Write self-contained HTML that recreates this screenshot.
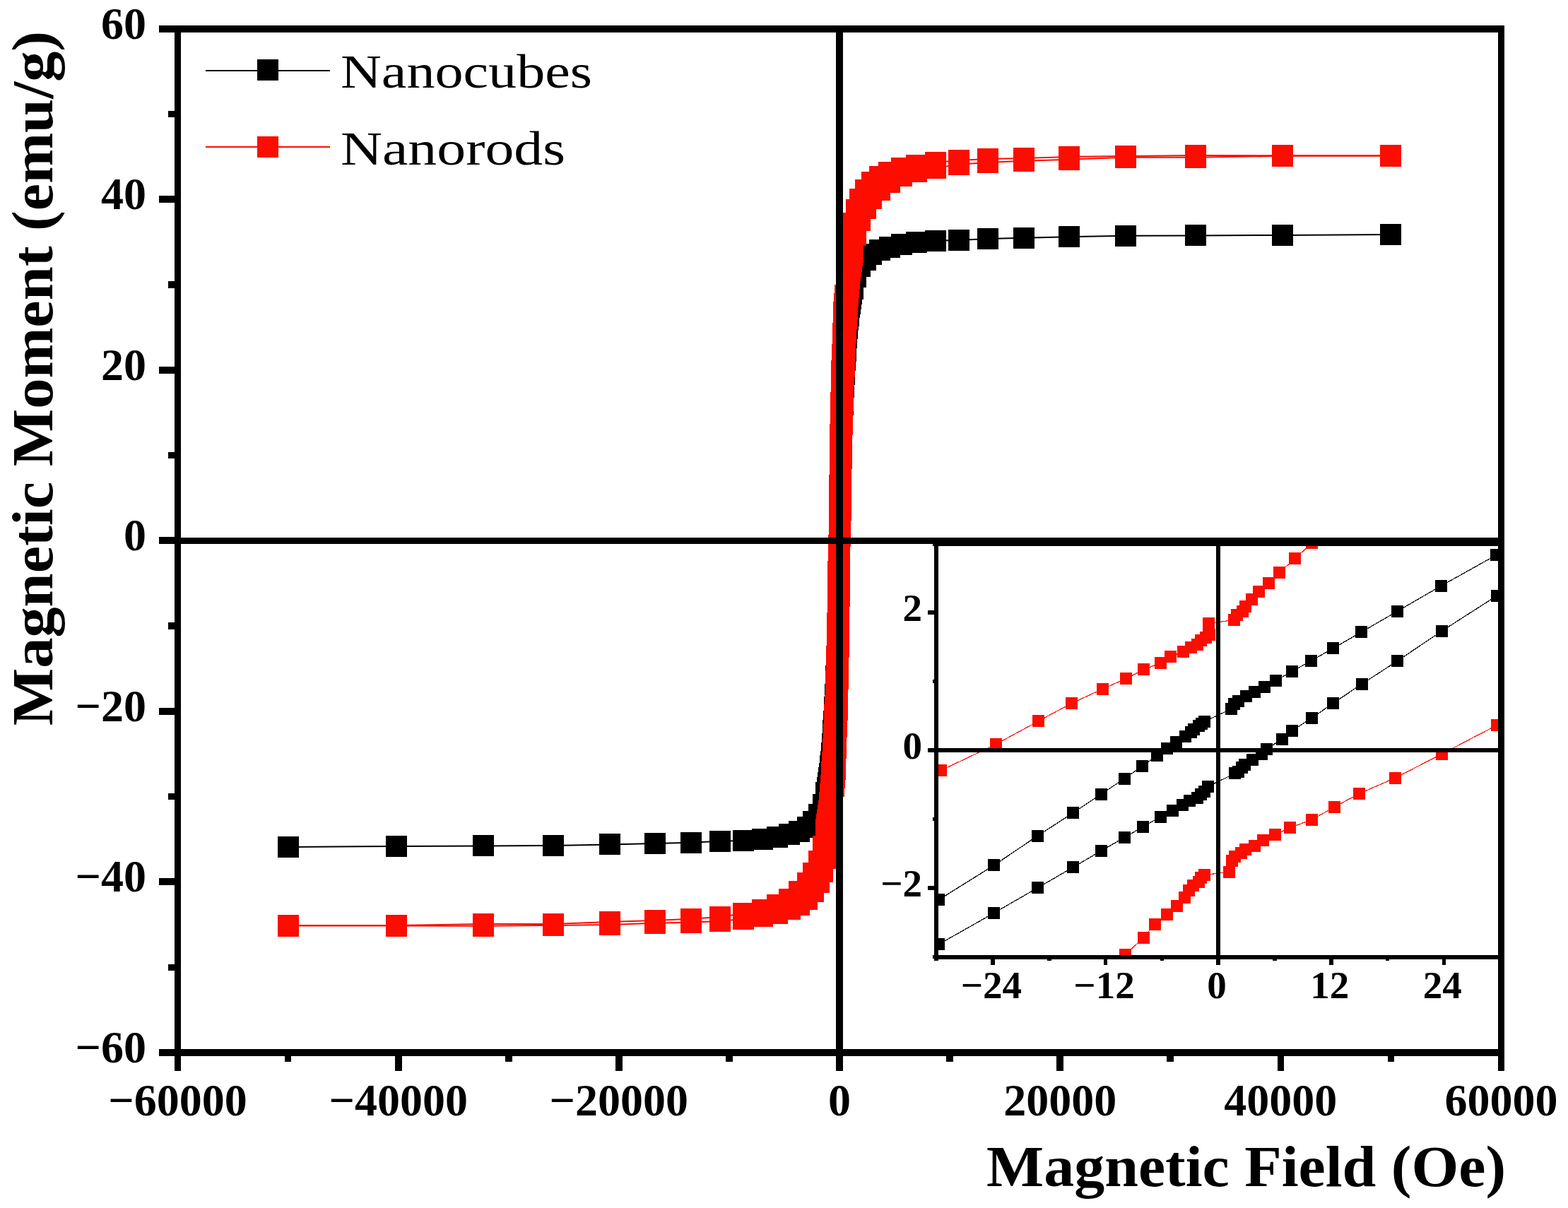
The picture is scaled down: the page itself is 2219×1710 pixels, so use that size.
<!DOCTYPE html>
<html><head><meta charset="utf-8"><title>Magnetic hysteresis</title><style>html,body{margin:0;padding:0;background:#fff;}svg{display:block;}</style></head><body>
<svg width="2219" height="1710" viewBox="0 0 2219 1710">
<rect width="100%" height="100%" fill="#fff"/>
<defs><clipPath id="cm"><rect x="251.5" y="41" width="1873" height="1449"/></clipPath><clipPath id="ci"><rect x="1325" y="769.9" width="798.2" height="584.4"/></clipPath></defs>
<g clip-path="url(#cm)">
<polyline points="408,1198.9 561,1197.9 684,1197.4 783,1197 862.6,1195.5 926.7,1194 978,1192.8 1019,1190.8 1052,1190.1 1079,1187.7 1100,1185.1 1117.5,1180.8 1131,1176.5 1143,1171.1 1151.1,1163.1 1159.2,1153.3 1165.1,1139 1169.3,1122.1 1170.5,1115.1 1171.8,1108.1 1173,1101.1 1173.8,1095.3 1174.5,1089.6 1175.3,1083.8 1176.1,1078.1 1176.6,1071.9 1177.2,1065.6 1177.8,1059.4 1178.3,1053.2 1178.7,1046.6 1179,1040.1 1179.4,1033.5 1179.8,1027 1180.2,1020.5 1180.7,1014.1 1181.1,1007.6 1181.5,1001.2 1181.8,995.1 1182.1,989 1182.4,983 1182.7,976.9 1183,970.8 1183.2,964.1 1183.5,957.5 1183.8,950.8 1184,944.1 1184.2,937.5 1184.5,930.8 1184.7,924.5 1184.8,918.3 1185,912 1185.1,905.8 1185.2,899.5 1185.4,893.3 1185.5,887 1185.7,880.8 1185.8,874.1 1185.9,867.5 1186.1,860.8 1186.2,854.1 1186.3,847.5 1186.4,840.8 1186.6,834.1 1186.7,827.5 1186.8,820.8 1186.9,813.9 1187,806.9 1187.2,800 1187.3,793.1 1187.4,786.2 1187.5,779.2 1187.7,772.3 1187.8,765.4 1188,758.5 1188.2,751.5 1188.3,744.6 1188.5,737.7 1188.7,730.8 1188.8,723.9 1189,716.9 1189.2,710 1189.3,703.3 1189.4,696.7 1189.6,690 1189.7,683.3 1189.8,676.7 1189.9,670 1190.1,663.3 1190.2,656.7 1190.3,650 1190.5,643.8 1190.6,637.5 1190.8,631.2 1190.9,625 1191,618.8 1191.2,612.5 1191.3,606.2 1191.5,600 1191.8,593.3 1192,586.7 1192.2,580 1192.5,573.3 1192.8,566.7 1193,560 1193.3,553.9 1193.6,547.8 1193.9,541.8 1194.2,535.7 1194.5,529.6 1194.9,523.1 1195.3,516.7 1195.8,510.2 1196.2,503.8 1196.6,497.2 1197,490.7 1197.3,484.2 1197.7,477.6 1198.2,471.4 1198.8,465.1 1199.4,458.9 1199.9,452.7 1200.7,446.9 1201.5,441.2 1202.2,435.4 1203,429.7 1204.2,422.7 1205.5,415.7 1206.7,408.7 1210.9,391.8 1216.8,377.5 1224.9,367.7 1233,359.7 1245,354.3 1258.5,350 1276,345.7 1297,343.1 1324,340.7 1357,340 1398,338 1449.3,336.8 1513.4,335.3 1593,333.8 1692,333.4 1815,332.9 1968,331.9" fill="none" stroke="#000" stroke-width="2" stroke-linejoin="round"/>
<path d="M393 1184h30v30h-30zM546 1183h30v30h-30zM669 1182h30v30h-30zM768 1182h30v30h-30zM848 1180h30v30h-30zM912 1179h30v30h-30zM963 1178h30v30h-30zM1004 1176h30v30h-30zM1037 1175h30v30h-30zM1064 1173h30v30h-30zM1085 1170h30v30h-30zM1102 1166h30v30h-30zM1116 1162h30v30h-30zM1128 1156h30v30h-30zM1136 1148h30v30h-30zM1144 1138h30v30h-30zM1150 1124h30v30h-30zM1154 1107h30v30h-30zM1156 1100h30v30h-30zM1157 1093h30v30h-30zM1158 1086h30v30h-30zM1159 1080h30v30h-30zM1160 1075h30v30h-30zM1160 1069h30v30h-30zM1161 1063h30v30h-30zM1162 1057h30v30h-30zM1162 1051h30v30h-30zM1163 1044h30v30h-30zM1163 1038h30v30h-30zM1164 1032h30v30h-30zM1164 1025h30v30h-30zM1164 1019h30v30h-30zM1165 1012h30v30h-30zM1165 1006h30v30h-30zM1166 999h30v30h-30zM1166 993h30v30h-30zM1166 986h30v30h-30zM1167 980h30v30h-30zM1167 974h30v30h-30zM1167 968h30v30h-30zM1168 962h30v30h-30zM1168 956h30v30h-30zM1168 949h30v30h-30zM1168 942h30v30h-30zM1169 936h30v30h-30zM1169 929h30v30h-30zM1169 922h30v30h-30zM1170 916h30v30h-30zM1170 910h30v30h-30zM1170 903h30v30h-30zM1170 897h30v30h-30zM1170 891h30v30h-30zM1170 885h30v30h-30zM1170 878h30v30h-30zM1171 872h30v30h-30zM1171 866h30v30h-30zM1171 859h30v30h-30zM1171 852h30v30h-30zM1171 846h30v30h-30zM1171 839h30v30h-30zM1171 832h30v30h-30zM1171 826h30v30h-30zM1172 819h30v30h-30zM1172 812h30v30h-30zM1172 806h30v30h-30zM1172 799h30v30h-30zM1172 792h30v30h-30zM1172 785h30v30h-30zM1172 778h30v30h-30zM1172 771h30v30h-30zM1173 764h30v30h-30zM1173 757h30v30h-30zM1173 750h30v30h-30zM1173 743h30v30h-30zM1173 737h30v30h-30zM1173 730h30v30h-30zM1174 723h30v30h-30zM1174 716h30v30h-30zM1174 709h30v30h-30zM1174 702h30v30h-30zM1174 695h30v30h-30zM1174 688h30v30h-30zM1174 682h30v30h-30zM1175 675h30v30h-30zM1175 668h30v30h-30zM1175 662h30v30h-30zM1175 655h30v30h-30zM1175 648h30v30h-30zM1175 642h30v30h-30zM1175 635h30v30h-30zM1175 629h30v30h-30zM1176 622h30v30h-30zM1176 616h30v30h-30zM1176 610h30v30h-30zM1176 604h30v30h-30zM1176 598h30v30h-30zM1176 591h30v30h-30zM1176 585h30v30h-30zM1177 578h30v30h-30zM1177 572h30v30h-30zM1177 565h30v30h-30zM1178 558h30v30h-30zM1178 552h30v30h-30zM1178 545h30v30h-30zM1178 539h30v30h-30zM1179 533h30v30h-30zM1179 527h30v30h-30zM1179 521h30v30h-30zM1180 515h30v30h-30zM1180 508h30v30h-30zM1180 502h30v30h-30zM1181 495h30v30h-30zM1181 489h30v30h-30zM1182 482h30v30h-30zM1182 476h30v30h-30zM1182 469h30v30h-30zM1183 463h30v30h-30zM1183 456h30v30h-30zM1184 450h30v30h-30zM1184 444h30v30h-30zM1185 438h30v30h-30zM1186 432h30v30h-30zM1186 426h30v30h-30zM1187 420h30v30h-30zM1188 415h30v30h-30zM1189 408h30v30h-30zM1190 401h30v30h-30zM1192 394h30v30h-30zM1196 377h30v30h-30zM1202 362h30v30h-30zM1210 353h30v30h-30zM1218 345h30v30h-30zM1230 339h30v30h-30zM1244 335h30v30h-30zM1261 331h30v30h-30zM1282 328h30v30h-30zM1309 326h30v30h-30zM1342 325h30v30h-30zM1383 323h30v30h-30zM1434 322h30v30h-30zM1498 320h30v30h-30zM1578 319h30v30h-30zM1677 318h30v30h-30zM1800 318h30v30h-30zM1953 317h30v30h-30z" fill="#000" shape-rendering="crispEdges"/>
<polyline points="1968,220.2 1815,220.2 1692,220 1593,220.9 1513.4,221.9 1449.3,224 1398.1,225 1356.9,226.9 1324.1,230 1297,233.9 1276.1,238 1258.1,244.1 1245.1,250.1 1234.1,258 1225.2,269 1217,282.2 1212.1,297.2 1207.7,316.1 1206.9,322.1 1206.1,328.1 1205.3,334 1204.5,340 1203.8,346.5 1203,353 1202.2,359.5 1201.5,366 1200.8,372.5 1200.2,379 1199.5,385.5 1198.8,392 1198.6,397.5 1198.4,403 1198.3,408.5 1198.1,414 1196.2,418 1195.8,424 1195.3,430 1194.9,436 1194.4,442 1194,448 1193.9,454 1193.7,460 1193.6,466 1193.4,472 1193.3,478 1193,484 1192.8,490 1192.5,496 1192.3,502 1192,508 1191.8,513.8 1191.6,519.6 1191.4,525.4 1191.2,531.2 1191,537 1190.9,543.6 1190.8,550.2 1190.7,556.9 1190.5,563.5 1190.4,570.1 1190.3,576.8 1190.2,583.4 1190.1,590 1189.9,596.3 1189.8,602.6 1189.6,608.9 1189.5,615.1 1189.3,621.4 1189.2,627.7 1189,634 1188.9,640.6 1188.9,647.1 1188.8,653.7 1188.7,660.3 1188.6,666.9 1188.6,673.4 1188.5,680 1188.4,687 1188.4,694 1188.3,701 1188.3,708 1188.2,715 1188.2,722 1188.1,729 1188,735.1 1187.9,741.1 1187.8,747.2 1187.8,753.3 1187.7,759.3 1187.6,765.4 1187.4,771.7 1187.3,777.9 1187.1,784.2 1186.9,790.5 1186.8,796.7 1186.6,803 1186.4,809.3 1186.3,815.5 1186.1,821.8 1186,828.5 1186,835.2 1185.9,841.9 1185.8,848.6 1185.8,855.3 1185.7,862 1185.6,868.7 1185.5,875.4 1185.5,882.1 1185.4,888.8 1185.2,895.6 1185.1,902.4 1184.9,909.1 1184.8,915.9 1184.6,922.7 1184.5,929.5 1184.3,936.2 1184.2,943 1184,949.8 1183.7,956.8 1183.5,963.8 1183.2,970.8 1183.2,975.8 1183.1,980.8 1183.1,985.8 1182.7,992.4 1182.3,999 1181.9,1005.6 1181.5,1012.2 1181.1,1018.8 1180.8,1025.6 1180.6,1032.4 1180.3,1039.2 1180.1,1046 1179.8,1052.8 1179.4,1059.6 1179,1066.4 1178.6,1073.2 1178.2,1080 1177.8,1086.8 1177.4,1093 1177,1099.2 1176.6,1105.4 1176.2,1111.6 1175.8,1117.8 1175.2,1123.8 1174.7,1129.8 1174.1,1135.8 1173.6,1141.8 1173,1147.8 1172,1154.3 1171.1,1160.8 1170.2,1167.3 1169.2,1173.8 1165.1,1197.9 1159.1,1218.9 1151.1,1236.2 1143,1249.9 1131.1,1262 1117.2,1273.1 1100.1,1281.3 1079.1,1287.9 1052.1,1293 1019,1298 978,1300.8 926.7,1303.1 862.6,1305.1 783,1308.1 684,1308 561,1310 408,1310" fill="none" stroke="#FD0C00" stroke-width="2" stroke-linejoin="round"/>
<polyline points="408,1310.6 561,1310.6 684,1310.8 783,1309.9 862.6,1308.9 926.7,1306.8 977.9,1305.8 1019.1,1303.9 1051.9,1300.8 1079,1296.9 1099.9,1292.8 1117.9,1286.7 1130.9,1280.7 1141.9,1272.8 1150.8,1261.8 1159,1248.6 1163.9,1233.6 1168.3,1214.7 1169.1,1208.7 1169.9,1202.8 1170.7,1196.8 1171.5,1190.8 1172.2,1184.3 1173,1177.8 1173.8,1171.3 1174.5,1164.8 1175.2,1158.3 1175.8,1151.8 1176.5,1145.3 1177.2,1138.8 1177.4,1133.3 1177.6,1127.8 1177.7,1122.3 1177.9,1116.8 1179.8,1112.8 1180.2,1106.8 1180.7,1100.8 1181.1,1094.8 1181.6,1088.8 1182,1082.8 1182.1,1076.8 1182.3,1070.8 1182.4,1064.8 1182.6,1058.8 1182.7,1052.8 1183,1046.8 1183.2,1040.8 1183.5,1034.8 1183.7,1028.8 1184,1022.8 1184.2,1017 1184.4,1011.2 1184.6,1005.4 1184.8,999.6 1185,993.8 1185.1,987.2 1185.2,980.5 1185.3,973.9 1185.5,967.3 1185.6,960.7 1185.7,954 1185.8,947.4 1185.9,940.8 1186.1,934.5 1186.2,928.2 1186.4,921.9 1186.5,915.7 1186.7,909.4 1186.8,903.1 1187,896.8 1187.1,890.2 1187.1,883.7 1187.2,877.1 1187.3,870.5 1187.4,863.9 1187.4,857.4 1187.5,850.8 1187.6,843.8 1187.6,836.8 1187.7,829.8 1187.7,822.8 1187.8,815.8 1187.8,808.8 1187.9,801.8 1188,795.7 1188.1,789.7 1188.2,783.6 1188.2,777.5 1188.3,771.5 1188.4,765.4 1188.6,759.1 1188.7,752.9 1188.9,746.6 1189.1,740.3 1189.2,734.1 1189.4,727.8 1189.6,721.5 1189.7,715.3 1189.9,709 1190,702.3 1190,695.6 1190.1,688.9 1190.2,682.2 1190.2,675.5 1190.3,668.8 1190.4,662.1 1190.5,655.4 1190.5,648.7 1190.6,642 1190.8,635.2 1190.9,628.4 1191.1,621.7 1191.2,614.9 1191.4,608.1 1191.5,601.3 1191.7,594.6 1191.8,587.8 1192,581 1192.3,574 1192.5,567 1192.8,560 1192.8,555 1192.9,550 1192.9,545 1193.3,538.4 1193.7,531.8 1194.1,525.2 1194.5,518.6 1194.9,512 1195.2,505.2 1195.4,498.4 1195.7,491.6 1195.9,484.8 1196.2,478 1196.6,471.2 1197,464.4 1197.4,457.6 1197.8,450.8 1198.2,444 1198.6,437.8 1199,431.6 1199.4,425.4 1199.8,419.2 1200.2,413 1200.8,407 1201.3,401 1201.9,395 1202.4,389 1203,383 1204,376.5 1204.9,370 1205.8,363.5 1206.8,357 1210.9,332.9 1216.9,311.9 1224.9,294.6 1233,280.9 1244.9,268.8 1258.8,257.7 1275.9,249.5 1296.9,242.9 1323.9,237.8 1357,232.8 1398,230 1449.3,227.7 1513.4,225.7 1593,222.7 1692,222.8 1815,220.8 1968,220.8" fill="none" stroke="#FD0C00" stroke-width="2" stroke-linejoin="round"/>
<path d="M1953 205h30v30h-30zM1800 205h30v30h-30zM1677 205h30v30h-30zM1578 206h30v30h-30zM1498 207h30v30h-30zM1434 209h30v30h-30zM1383 210h30v30h-30zM1342 212h30v30h-30zM1309 215h30v30h-30zM1282 219h30v30h-30zM1261 223h30v30h-30zM1243 229h30v30h-30zM1230 235h30v30h-30zM1219 243h30v30h-30zM1210 254h30v30h-30zM1202 267h30v30h-30zM1197 282h30v30h-30zM1193 301h30v30h-30zM1192 307h30v30h-30zM1191 313h30v30h-30zM1190 319h30v30h-30zM1190 325h30v30h-30zM1189 332h30v30h-30zM1188 338h30v30h-30zM1187 344h30v30h-30zM1186 351h30v30h-30zM1186 358h30v30h-30zM1185 364h30v30h-30zM1184 370h30v30h-30zM1184 377h30v30h-30zM1184 382h30v30h-30zM1183 388h30v30h-30zM1183 394h30v30h-30zM1183 399h30v30h-30zM1181 403h30v30h-30zM1181 409h30v30h-30zM1180 415h30v30h-30zM1180 421h30v30h-30zM1179 427h30v30h-30zM1179 433h30v30h-30zM1179 439h30v30h-30zM1179 445h30v30h-30zM1179 451h30v30h-30zM1178 457h30v30h-30zM1178 463h30v30h-30zM1178 469h30v30h-30zM1178 475h30v30h-30zM1178 481h30v30h-30zM1177 487h30v30h-30zM1177 493h30v30h-30zM1177 499h30v30h-30zM1177 505h30v30h-30zM1176 510h30v30h-30zM1176 516h30v30h-30zM1176 522h30v30h-30zM1176 529h30v30h-30zM1176 535h30v30h-30zM1176 542h30v30h-30zM1176 548h30v30h-30zM1175 555h30v30h-30zM1175 562h30v30h-30zM1175 568h30v30h-30zM1175 575h30v30h-30zM1175 581h30v30h-30zM1175 588h30v30h-30zM1175 594h30v30h-30zM1174 600h30v30h-30zM1174 606h30v30h-30zM1174 613h30v30h-30zM1174 619h30v30h-30zM1174 626h30v30h-30zM1174 632h30v30h-30zM1174 639h30v30h-30zM1174 645h30v30h-30zM1174 652h30v30h-30zM1174 658h30v30h-30zM1174 665h30v30h-30zM1173 672h30v30h-30zM1173 679h30v30h-30zM1173 686h30v30h-30zM1173 693h30v30h-30zM1173 700h30v30h-30zM1173 707h30v30h-30zM1173 714h30v30h-30zM1173 720h30v30h-30zM1173 726h30v30h-30zM1173 732h30v30h-30zM1173 738h30v30h-30zM1173 744h30v30h-30zM1173 750h30v30h-30zM1172 757h30v30h-30zM1172 763h30v30h-30zM1172 769h30v30h-30zM1172 775h30v30h-30zM1172 782h30v30h-30zM1172 788h30v30h-30zM1171 794h30v30h-30zM1171 801h30v30h-30zM1171 807h30v30h-30zM1171 814h30v30h-30zM1171 820h30v30h-30zM1171 827h30v30h-30zM1171 834h30v30h-30zM1171 840h30v30h-30zM1171 847h30v30h-30zM1171 854h30v30h-30zM1171 860h30v30h-30zM1170 867h30v30h-30zM1170 874h30v30h-30zM1170 881h30v30h-30zM1170 887h30v30h-30zM1170 894h30v30h-30zM1170 901h30v30h-30zM1170 908h30v30h-30zM1169 914h30v30h-30zM1169 921h30v30h-30zM1169 928h30v30h-30zM1169 935h30v30h-30zM1169 942h30v30h-30zM1168 949h30v30h-30zM1168 956h30v30h-30zM1168 961h30v30h-30zM1168 966h30v30h-30zM1168 971h30v30h-30zM1168 977h30v30h-30zM1167 984h30v30h-30zM1167 991h30v30h-30zM1166 997h30v30h-30zM1166 1004h30v30h-30zM1166 1011h30v30h-30zM1166 1017h30v30h-30zM1165 1024h30v30h-30zM1165 1031h30v30h-30zM1165 1038h30v30h-30zM1164 1045h30v30h-30zM1164 1051h30v30h-30zM1164 1058h30v30h-30zM1163 1065h30v30h-30zM1163 1072h30v30h-30zM1162 1078h30v30h-30zM1162 1084h30v30h-30zM1162 1090h30v30h-30zM1161 1097h30v30h-30zM1161 1103h30v30h-30zM1160 1109h30v30h-30zM1160 1115h30v30h-30zM1159 1121h30v30h-30zM1159 1127h30v30h-30zM1158 1133h30v30h-30zM1157 1139h30v30h-30zM1156 1146h30v30h-30zM1155 1152h30v30h-30zM1154 1159h30v30h-30zM1150 1183h30v30h-30zM1144 1204h30v30h-30zM1136 1221h30v30h-30zM1128 1235h30v30h-30zM1116 1247h30v30h-30zM1102 1258h30v30h-30zM1085 1266h30v30h-30zM1064 1273h30v30h-30zM1037 1278h30v30h-30zM1004 1283h30v30h-30zM963 1286h30v30h-30zM912 1288h30v30h-30zM848 1290h30v30h-30zM768 1293h30v30h-30zM669 1293h30v30h-30zM546 1295h30v30h-30zM393 1295h30v30h-30z" fill="#FD0C00" shape-rendering="crispEdges"/>
<path d="M393 1296h30v30h-30zM546 1296h30v30h-30zM669 1296h30v30h-30zM768 1295h30v30h-30zM848 1294h30v30h-30zM912 1292h30v30h-30zM963 1291h30v30h-30zM1004 1289h30v30h-30zM1037 1286h30v30h-30zM1064 1282h30v30h-30zM1085 1278h30v30h-30zM1103 1272h30v30h-30zM1116 1266h30v30h-30zM1127 1258h30v30h-30zM1136 1247h30v30h-30zM1144 1234h30v30h-30zM1149 1219h30v30h-30zM1153 1200h30v30h-30zM1154 1194h30v30h-30zM1155 1188h30v30h-30zM1156 1182h30v30h-30zM1156 1176h30v30h-30zM1157 1169h30v30h-30zM1158 1163h30v30h-30zM1159 1156h30v30h-30zM1160 1150h30v30h-30zM1160 1143h30v30h-30zM1161 1137h30v30h-30zM1162 1130h30v30h-30zM1162 1124h30v30h-30zM1162 1118h30v30h-30zM1163 1113h30v30h-30zM1163 1107h30v30h-30zM1163 1102h30v30h-30zM1165 1098h30v30h-30zM1165 1092h30v30h-30zM1166 1086h30v30h-30zM1166 1080h30v30h-30zM1167 1074h30v30h-30zM1167 1068h30v30h-30zM1167 1062h30v30h-30zM1167 1056h30v30h-30zM1167 1050h30v30h-30zM1168 1044h30v30h-30zM1168 1038h30v30h-30zM1168 1032h30v30h-30zM1168 1026h30v30h-30zM1168 1020h30v30h-30zM1169 1014h30v30h-30zM1169 1008h30v30h-30zM1169 1002h30v30h-30zM1169 996h30v30h-30zM1170 990h30v30h-30zM1170 985h30v30h-30zM1170 979h30v30h-30zM1170 972h30v30h-30zM1170 966h30v30h-30zM1170 959h30v30h-30zM1170 952h30v30h-30zM1171 946h30v30h-30zM1171 939h30v30h-30zM1171 932h30v30h-30zM1171 926h30v30h-30zM1171 920h30v30h-30zM1171 913h30v30h-30zM1171 907h30v30h-30zM1172 901h30v30h-30zM1172 894h30v30h-30zM1172 888h30v30h-30zM1172 882h30v30h-30zM1172 875h30v30h-30zM1172 869h30v30h-30zM1172 862h30v30h-30zM1172 856h30v30h-30zM1172 849h30v30h-30zM1172 842h30v30h-30zM1172 836h30v30h-30zM1173 829h30v30h-30zM1173 822h30v30h-30zM1173 815h30v30h-30zM1173 808h30v30h-30zM1173 801h30v30h-30zM1173 794h30v30h-30zM1173 787h30v30h-30zM1173 781h30v30h-30zM1173 775h30v30h-30zM1173 769h30v30h-30zM1173 763h30v30h-30zM1173 756h30v30h-30zM1173 750h30v30h-30zM1174 744h30v30h-30zM1174 738h30v30h-30zM1174 732h30v30h-30zM1174 725h30v30h-30zM1174 719h30v30h-30zM1174 713h30v30h-30zM1175 707h30v30h-30zM1175 700h30v30h-30zM1175 694h30v30h-30zM1175 687h30v30h-30zM1175 681h30v30h-30zM1175 674h30v30h-30zM1175 667h30v30h-30zM1175 660h30v30h-30zM1175 654h30v30h-30zM1175 647h30v30h-30zM1175 640h30v30h-30zM1176 634h30v30h-30zM1176 627h30v30h-30zM1176 620h30v30h-30zM1176 613h30v30h-30zM1176 607h30v30h-30zM1176 600h30v30h-30zM1176 593h30v30h-30zM1177 586h30v30h-30zM1177 580h30v30h-30zM1177 573h30v30h-30zM1177 566h30v30h-30zM1177 559h30v30h-30zM1178 552h30v30h-30zM1178 545h30v30h-30zM1178 540h30v30h-30zM1178 535h30v30h-30zM1178 530h30v30h-30zM1178 523h30v30h-30zM1179 517h30v30h-30zM1179 510h30v30h-30zM1180 504h30v30h-30zM1180 497h30v30h-30zM1180 490h30v30h-30zM1180 483h30v30h-30zM1181 477h30v30h-30zM1181 470h30v30h-30zM1181 463h30v30h-30zM1182 456h30v30h-30zM1182 449h30v30h-30zM1182 443h30v30h-30zM1183 436h30v30h-30zM1183 429h30v30h-30zM1184 423h30v30h-30zM1184 417h30v30h-30zM1184 410h30v30h-30zM1185 404h30v30h-30zM1185 398h30v30h-30zM1186 392h30v30h-30zM1186 386h30v30h-30zM1187 380h30v30h-30zM1187 374h30v30h-30zM1188 368h30v30h-30zM1189 362h30v30h-30zM1190 355h30v30h-30zM1191 348h30v30h-30zM1192 342h30v30h-30zM1196 318h30v30h-30zM1202 297h30v30h-30zM1210 280h30v30h-30zM1218 266h30v30h-30zM1230 254h30v30h-30zM1244 243h30v30h-30zM1261 234h30v30h-30zM1282 228h30v30h-30zM1309 223h30v30h-30zM1342 218h30v30h-30zM1383 215h30v30h-30zM1434 213h30v30h-30zM1498 211h30v30h-30zM1578 208h30v30h-30zM1677 208h30v30h-30zM1800 206h30v30h-30zM1953 206h30v30h-30z" fill="#FD0C00" shape-rendering="crispEdges"/>
</g>
<rect x="251.5" y="761" width="1873" height="9" fill="#000" shape-rendering="crispEdges"/>
<rect x="1183" y="41" width="10" height="1449" fill="#000" shape-rendering="crispEdges"/>
<rect x="247" y="36" width="1882" height="10" fill="#000" shape-rendering="crispEdges"/>
<rect x="247" y="1485" width="1882" height="10" fill="#000" shape-rendering="crispEdges"/>
<rect x="247" y="36" width="9" height="1459" fill="#000" shape-rendering="crispEdges"/>
<rect x="2120" y="36" width="9" height="1459" fill="#000" shape-rendering="crispEdges"/>
<rect x="225" y="1484.9" width="22" height="10" fill="#000" shape-rendering="crispEdges"/>
<rect x="225" y="1243.4" width="22" height="10" fill="#000" shape-rendering="crispEdges"/>
<rect x="225" y="1001.9" width="22" height="10" fill="#000" shape-rendering="crispEdges"/>
<rect x="225" y="760.4" width="22" height="10" fill="#000" shape-rendering="crispEdges"/>
<rect x="225" y="518.9" width="22" height="10" fill="#000" shape-rendering="crispEdges"/>
<rect x="225" y="277.4" width="22" height="10" fill="#000" shape-rendering="crispEdges"/>
<rect x="225" y="35.9" width="22" height="10" fill="#000" shape-rendering="crispEdges"/>
<rect x="237.8" y="1364.5" width="9.2" height="9.4" fill="#000" shape-rendering="crispEdges"/>
<rect x="237.8" y="1123" width="9.2" height="9.4" fill="#000" shape-rendering="crispEdges"/>
<rect x="237.8" y="881.4" width="9.2" height="9.4" fill="#000" shape-rendering="crispEdges"/>
<rect x="237.8" y="639.9" width="9.2" height="9.4" fill="#000" shape-rendering="crispEdges"/>
<rect x="237.8" y="398.4" width="9.2" height="9.4" fill="#000" shape-rendering="crispEdges"/>
<rect x="237.8" y="156.9" width="9.2" height="9.4" fill="#000" shape-rendering="crispEdges"/>
<rect x="246.7" y="1495" width="9.6" height="21" fill="#000" shape-rendering="crispEdges"/>
<rect x="558.9" y="1495" width="9.6" height="21" fill="#000" shape-rendering="crispEdges"/>
<rect x="871" y="1495" width="9.6" height="21" fill="#000" shape-rendering="crispEdges"/>
<rect x="1183.2" y="1495" width="9.6" height="21" fill="#000" shape-rendering="crispEdges"/>
<rect x="1495.4" y="1495" width="9.6" height="21" fill="#000" shape-rendering="crispEdges"/>
<rect x="1807.5" y="1495" width="9.6" height="21" fill="#000" shape-rendering="crispEdges"/>
<rect x="2119.7" y="1495" width="9.6" height="21" fill="#000" shape-rendering="crispEdges"/>
<rect x="402.8" y="1495" width="9.6" height="7.7" fill="#000" shape-rendering="crispEdges"/>
<rect x="715" y="1495" width="9.6" height="7.7" fill="#000" shape-rendering="crispEdges"/>
<rect x="1027.1" y="1495" width="9.6" height="7.7" fill="#000" shape-rendering="crispEdges"/>
<rect x="1339.3" y="1495" width="9.6" height="7.7" fill="#000" shape-rendering="crispEdges"/>
<rect x="1651.4" y="1495" width="9.6" height="7.7" fill="#000" shape-rendering="crispEdges"/>
<rect x="1963.6" y="1495" width="9.6" height="7.7" fill="#000" shape-rendering="crispEdges"/>
<g font-family="'Liberation Serif','Times New Roman',serif" font-weight="bold" font-size="64" fill="#000">
<text x="251.5" y="1579" text-anchor="middle">−60000</text>
<text x="563.7" y="1579" text-anchor="middle">−40000</text>
<text x="875.8" y="1579" text-anchor="middle">−20000</text>
<text x="1188" y="1579" text-anchor="middle">0</text>
<text x="1500.2" y="1579" text-anchor="middle">20000</text>
<text x="1812.3" y="1579" text-anchor="middle">40000</text>
<text x="2124.5" y="1579" text-anchor="middle">60000</text>
<text x="207" y="1503.9" text-anchor="end">−60</text>
<text x="207" y="1262.4" text-anchor="end">−40</text>
<text x="207" y="1020.9" text-anchor="end">−20</text>
<text x="207" y="779.4" text-anchor="end">0</text>
<text x="207" y="537.9" text-anchor="end">20</text>
<text x="207" y="296.4" text-anchor="end">40</text>
<text x="207" y="54.9" text-anchor="end">60</text>
</g>
<text font-family="'Liberation Serif','Times New Roman',serif" font-weight="bold" font-size="82" x="1396.1" y="1679" textLength="735" lengthAdjust="spacingAndGlyphs">Magnetic Field (Oe)</text>
<text font-family="'Liberation Serif','Times New Roman',serif" font-weight="bold" font-size="82" transform="translate(74,1027.3) rotate(-90)" x="0" y="0" textLength="983.4" lengthAdjust="spacingAndGlyphs">Magnetic Moment (emu/g)</text>
<rect x="291" y="98.8" width="176" height="2" fill="#000" shape-rendering="crispEdges"/>
<rect x="364" y="84.4" width="30" height="30" fill="#000" shape-rendering="crispEdges"/>
<rect x="291" y="206.9" width="176" height="2" fill="#FD0C00" shape-rendering="crispEdges"/>
<rect x="364" y="192.9" width="30" height="30" fill="#FD0C00" shape-rendering="crispEdges"/>
<text font-family="'Liberation Serif','Times New Roman',serif" font-size="67" x="482" y="124" textLength="356" lengthAdjust="spacingAndGlyphs">Nanocubes</text>
<text font-family="'Liberation Serif','Times New Roman',serif" font-size="67" x="482" y="233" textLength="318" lengthAdjust="spacingAndGlyphs">Nanorods</text>
<rect x="1324.8" y="769.3" width="799.8" height="585.6" fill="#fff" shape-rendering="crispEdges"/>
<g clip-path="url(#ci)">
<polyline points="1328.6,1273.6 1406.8,1224.8 1468.2,1183.3 1518.1,1151 1558,1124.3 1591.5,1102 1616.6,1084.4 1637.4,1069.4 1651.6,1059.5 1664.5,1050.3 1677.6,1042.5 1685.2,1036.3 1689.5,1032.4 1696.5,1027.9 1700.4,1024.4 1704.6,1021.3 1742.5,1003.6 1746.4,996.6 1752.6,992.4 1763.4,985.6 1775.9,979.4 1789.1,972.3 1805.1,963.4 1828.6,950.5 1855.5,935.4 1887,917.5 1927,894.5 1977.5,865.3 2039.5,829.3 2117.6,785.7" fill="none" stroke="#000" stroke-width="1.2" stroke-linejoin="round" shape-rendering="crispEdges"/>
<polyline points="1329,1336.4 1406.7,1292.4 1468.7,1256.6 1519,1227.5 1558.5,1204.3 1591.8,1185.3 1617.2,1170.5 1642,1156.4 1659.4,1147.4 1673.5,1139.4 1683.3,1133.4 1694.4,1129.5 1699.5,1124.2 1704.6,1120.2 1709.7,1113.3 1747.4,1095 1752.6,1092.1 1757.4,1086.5 1761.5,1082.4 1772.4,1075.5 1785.1,1067.5 1792.6,1060.3 1814.5,1046 1828.5,1034.4 1856,1016.6 1886.5,995.5 1927.2,968.3 1977.5,935.7 2040.4,893.3 2118.2,843.4" fill="none" stroke="#000" stroke-width="1.2" stroke-linejoin="round" shape-rendering="crispEdges"/>
<path d="M1320 1265h17v17h-17zM1398 1216h17v17h-17zM1460 1175h17v17h-17zM1510 1142h17v17h-17zM1550 1116h17v17h-17zM1583 1094h17v17h-17zM1608 1076h17v17h-17zM1629 1061h17v17h-17zM1643 1051h17v17h-17zM1656 1042h17v17h-17zM1669 1034h17v17h-17zM1677 1028h17v17h-17zM1681 1024h17v17h-17zM1688 1019h17v17h-17zM1692 1016h17v17h-17zM1696 1013h17v17h-17zM1734 995h17v17h-17zM1738 988h17v17h-17zM1744 984h17v17h-17zM1755 977h17v17h-17zM1767 971h17v17h-17zM1781 964h17v17h-17zM1797 955h17v17h-17zM1820 942h17v17h-17zM1847 927h17v17h-17zM1878 909h17v17h-17zM1918 886h17v17h-17zM1969 857h17v17h-17zM2031 821h17v17h-17zM2109 777h17v17h-17z" fill="#000" shape-rendering="crispEdges"/>
<path d="M1320 1328h17v17h-17zM1398 1284h17v17h-17zM1460 1248h17v17h-17zM1510 1219h17v17h-17zM1550 1196h17v17h-17zM1583 1177h17v17h-17zM1609 1162h17v17h-17zM1634 1148h17v17h-17zM1651 1139h17v17h-17zM1665 1131h17v17h-17zM1675 1125h17v17h-17zM1686 1121h17v17h-17zM1691 1116h17v17h-17zM1696 1112h17v17h-17zM1701 1105h17v17h-17zM1739 1086h17v17h-17zM1744 1084h17v17h-17zM1749 1078h17v17h-17zM1753 1074h17v17h-17zM1764 1067h17v17h-17zM1777 1059h17v17h-17zM1784 1052h17v17h-17zM1806 1038h17v17h-17zM1820 1026h17v17h-17zM1848 1008h17v17h-17zM1878 987h17v17h-17zM1919 960h17v17h-17zM1969 927h17v17h-17zM2032 885h17v17h-17zM2110 835h17v17h-17z" fill="#000" shape-rendering="crispEdges"/>
<polyline points="1331.2,1090.7 1409.4,1053.6 1469.6,1020.7 1517,995.3 1560.4,975.3 1593.5,960.5 1619,947.7 1642,938.5 1656.6,929.4 1674,922.6 1685.5,916.7 1694.4,912.1 1699.8,906.8 1706.4,902.2 1711.4,899 1711,890.5 1710.7,882.6 1746.5,877.4 1750.5,870.5 1758.3,865.5 1762.2,858.5 1771.6,848.5 1781.1,837.8 1795.6,825.5 1810.7,810 1832.7,790.9 1856.5,768.4 1880,745" fill="none" stroke="#FD0C00" stroke-width="1.2" stroke-linejoin="round" shape-rendering="crispEdges"/>
<polyline points="1568,1375 1592.5,1351.6 1618,1327.4 1634.6,1308.3 1651.5,1294.6 1665.5,1282 1676.4,1270.6 1682.6,1260.5 1688.9,1253.9 1696,1248.4 1699.6,1243 1704.6,1238.5 1739.7,1234.4 1743.3,1218.3 1747.5,1212.5 1756.5,1207.8 1762.5,1202.4 1775.8,1197.3 1787.7,1189.5 1804.8,1181.4 1825.9,1171.6 1856.8,1160.1 1888.4,1142.5 1923.5,1123.4 1974.1,1101.4 2040.4,1067.3 2118.4,1026.5" fill="none" stroke="#FD0C00" stroke-width="1.2" stroke-linejoin="round" shape-rendering="crispEdges"/>
<path d="M1323 1082h17v17h-17zM1401 1045h17v17h-17zM1461 1012h17v17h-17zM1508 987h17v17h-17zM1552 967h17v17h-17zM1585 952h17v17h-17zM1610 939h17v17h-17zM1634 930h17v17h-17zM1648 921h17v17h-17zM1666 914h17v17h-17zM1677 908h17v17h-17zM1686 904h17v17h-17zM1691 898h17v17h-17zM1698 894h17v17h-17zM1703 890h17v17h-17zM1702 882h17v17h-17zM1702 874h17v17h-17zM1738 869h17v17h-17zM1742 862h17v17h-17zM1750 857h17v17h-17zM1754 850h17v17h-17zM1763 840h17v17h-17zM1773 829h17v17h-17zM1787 817h17v17h-17zM1802 802h17v17h-17zM1824 782h17v17h-17zM1848 760h17v17h-17zM1872 736h17v17h-17z" fill="#FD0C00" shape-rendering="crispEdges"/>
<path d="M1560 1366h17v17h-17zM1584 1343h17v17h-17zM1610 1319h17v17h-17zM1626 1300h17v17h-17zM1643 1286h17v17h-17zM1657 1274h17v17h-17zM1668 1262h17v17h-17zM1674 1252h17v17h-17zM1680 1245h17v17h-17zM1688 1240h17v17h-17zM1691 1234h17v17h-17zM1696 1230h17v17h-17zM1731 1226h17v17h-17zM1735 1210h17v17h-17zM1739 1204h17v17h-17zM1748 1199h17v17h-17zM1754 1194h17v17h-17zM1767 1189h17v17h-17zM1779 1181h17v17h-17zM1796 1173h17v17h-17zM1817 1163h17v17h-17zM1848 1152h17v17h-17zM1880 1134h17v17h-17zM1915 1115h17v17h-17zM1966 1093h17v17h-17zM2032 1059h17v17h-17zM2110 1018h17v17h-17z" fill="#FD0C00" shape-rendering="crispEdges"/>
</g>
<rect x="1324.8" y="1059" width="799.8" height="6" fill="#000" shape-rendering="crispEdges"/>
<rect x="1721.1" y="769.3" width="5.9" height="585.6" fill="#000" shape-rendering="crispEdges"/>
<rect x="1319.6" y="767" width="804.9" height="6" fill="#000" shape-rendering="crispEdges"/>
<rect x="1322" y="767" width="5.5" height="590.6" fill="#000" shape-rendering="crispEdges"/>
<rect x="1322" y="1352.2" width="802.5" height="5.4" fill="#000" shape-rendering="crispEdges"/>
<rect x="251.5" y="761" width="1873" height="9" fill="#000" shape-rendering="crispEdges"/>
<rect x="2120" y="36" width="9" height="1459" fill="#000" shape-rendering="crispEdges"/>
<rect x="1313.4" y="1254" width="8.6" height="5.7" fill="#000" shape-rendering="crispEdges"/>
<rect x="1313.4" y="1059.2" width="8.6" height="5.7" fill="#000" shape-rendering="crispEdges"/>
<rect x="1313.4" y="864.4" width="8.6" height="5.7" fill="#000" shape-rendering="crispEdges"/>
<rect x="1319.5" y="1351.7" width="2.5" height="5.2" fill="#000" shape-rendering="crispEdges"/>
<rect x="1319.5" y="1156.9" width="2.5" height="5.2" fill="#000" shape-rendering="crispEdges"/>
<rect x="1319.5" y="962.1" width="2.5" height="5.2" fill="#000" shape-rendering="crispEdges"/>
<rect x="1319.5" y="767.3" width="2.5" height="5.2" fill="#000" shape-rendering="crispEdges"/>
<rect x="1402.1" y="1357.6" width="5.6" height="8" fill="#000" shape-rendering="crispEdges"/>
<rect x="1561.7" y="1357.6" width="5.6" height="8" fill="#000" shape-rendering="crispEdges"/>
<rect x="1721.3" y="1357.6" width="5.6" height="8" fill="#000" shape-rendering="crispEdges"/>
<rect x="1880.9" y="1357.6" width="5.6" height="8" fill="#000" shape-rendering="crispEdges"/>
<rect x="2040.5" y="1357.6" width="5.6" height="8" fill="#000" shape-rendering="crispEdges"/>
<rect x="1322.3" y="1357.6" width="5.6" height="2.7" fill="#000" shape-rendering="crispEdges"/>
<rect x="1481.9" y="1357.6" width="5.6" height="2.7" fill="#000" shape-rendering="crispEdges"/>
<rect x="1641.5" y="1357.6" width="5.6" height="2.7" fill="#000" shape-rendering="crispEdges"/>
<rect x="1801.1" y="1357.6" width="5.6" height="2.7" fill="#000" shape-rendering="crispEdges"/>
<rect x="1960.7" y="1357.6" width="5.6" height="2.7" fill="#000" shape-rendering="crispEdges"/>
<rect x="2120.3" y="1357.6" width="5.6" height="2.7" fill="#000" shape-rendering="crispEdges"/>
<g font-family="'Liberation Serif','Times New Roman',serif" font-weight="bold" font-size="55" fill="#000">
<text x="1402.9" y="1412.8" text-anchor="middle">−24</text>
<text x="1562.5" y="1412.8" text-anchor="middle">−12</text>
<text x="1722.1" y="1412.8" text-anchor="middle">0</text>
<text x="1881.7" y="1412.8" text-anchor="middle">12</text>
<text x="2041.3" y="1412.8" text-anchor="middle">24</text>
<text x="1305" y="1268.9" text-anchor="end">−2</text>
<text x="1305" y="1074.1" text-anchor="end">0</text>
<text x="1305" y="879.3" text-anchor="end">2</text>
</g>
</svg>
</body></html>
